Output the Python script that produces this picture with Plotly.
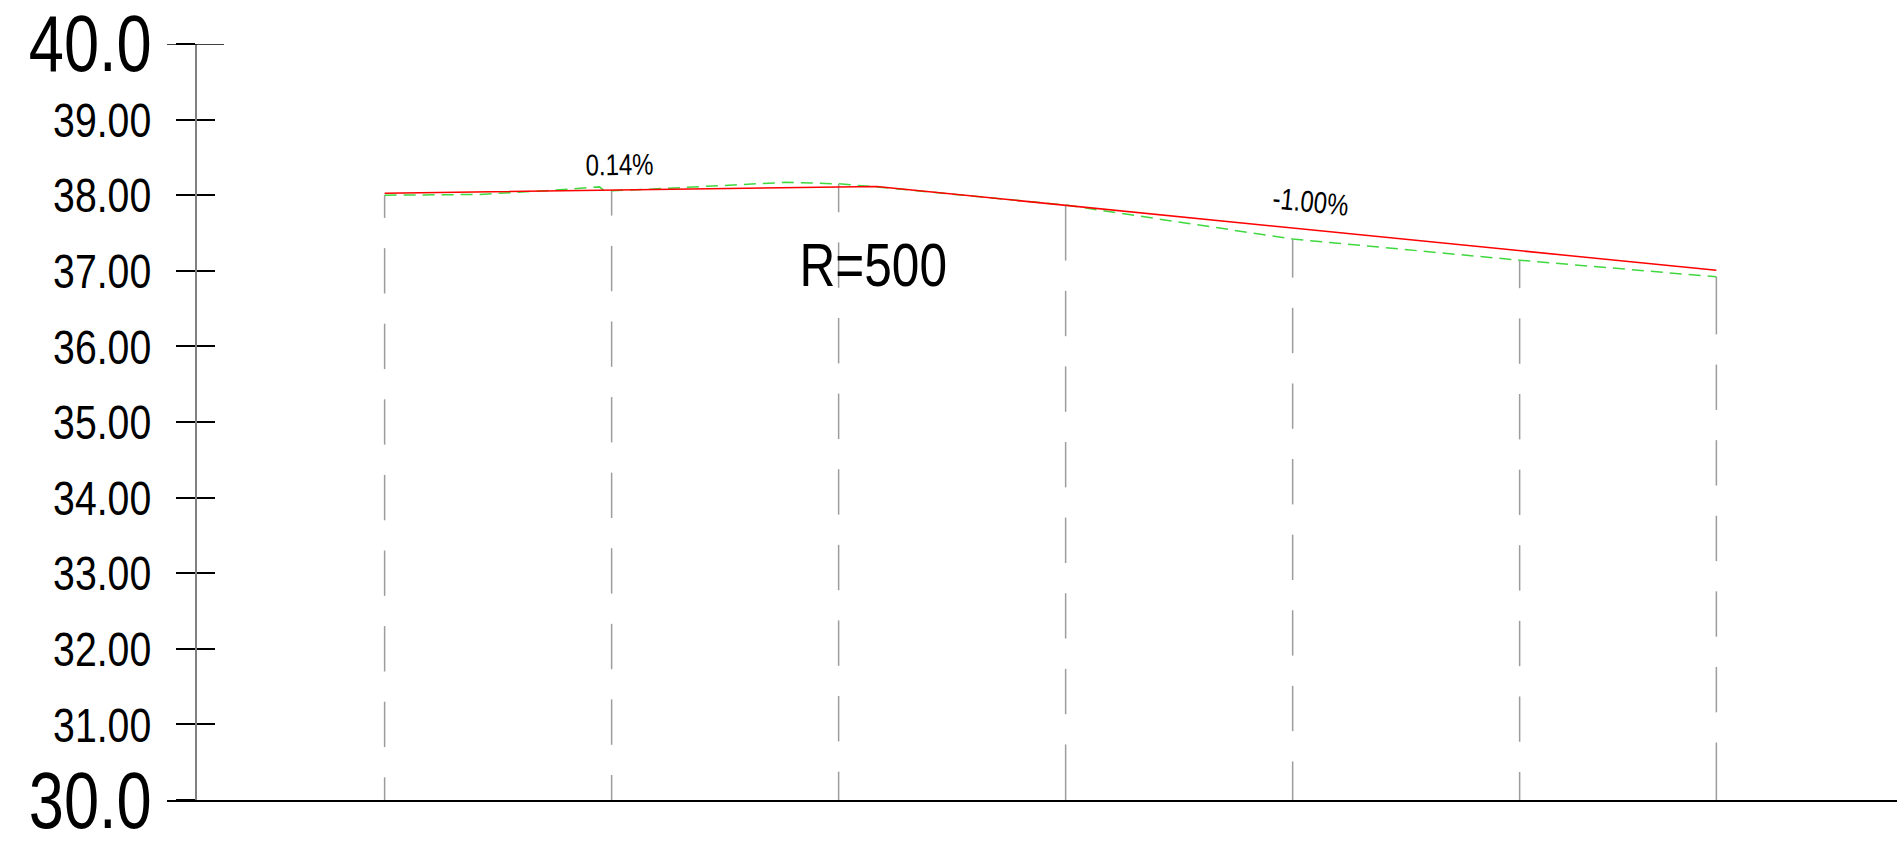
import numpy as np
import plotly.graph_objects as go

# ---------------- data ----------------
# stake stations (m) and ground elevation at each stake
stake_stations = [0, 30, 60, 90, 120, 150, 176]
stake_ground = [38.00, 38.06, 38.15, 37.87, 37.42, 37.14, 36.92]

# natural ground profile (green dashed)
ground_stations = [0, 12.5, 21.4, 28.4, 29.0, 30, 35, 45, 53, 60, 63, 65, 90, 120, 150, 176]
ground_elev = [38.00, 38.01, 38.06, 38.11, 38.06, 38.06, 38.08, 38.13, 38.17, 38.15,
               38.125, 38.11, 37.87, 37.42, 37.14, 36.92]

# design grade line (red), vertical points of intersection
pvi_stations = [0, 65, 176]
pvi_elev = [38.025, 38.116, 37.006]

grade_labels = ["0.14%", "-1.00%"]
grade_values = [0.0014, -0.01]
grade_label_pos = [(31.1, 38.41), (122.3, 37.91)]
curve_label = "R=500"
curve_label_pos = (64.5, 37.09)

y_tickvals = [30, 31, 32, 33, 34, 35, 36, 37, 38, 39, 40]
y_ticktext = ["30.0", "31.00", "32.00", "33.00", "34.00", "35.00", "36.00",
              "37.00", "38.00", "39.00", "40.0"]
big_labels = {30: "30.0", 40: "40.0"}

# ---------------- style ----------------
W, H = 1897, 846
FONT = "Liberation Sans, Arial, sans-serif"
X_RANGE = [-28.76, 199.87]
Y_RANGE = [30, 40]
X_DOMAIN = [167 / W, 1.0]
Y_DOMAIN = [(H - 800) / H, (H - 44) / H]
YAXIS_POS = 196 / W
DASH, GAP = 0.6, 0.4  # stake-line dash pattern in elevation units
WIDTH_FACTOR = 0.8    # CAD-like narrow text

fig = go.Figure()

# stake lines: dashed pattern, centred like CAD linetypes
xs, ys = [], []
base = Y_RANGE[0]
for s, top in zip(stake_stations, stake_ground):
    L = top - base
    n = int(np.floor(L / (DASH + GAP) + 1e-9))
    r = L - n * (DASH + GAP)
    a = (DASH + r) / 2
    segs = [(base, base + a)]
    y = base + a + GAP
    for _ in range(n - 1):
        segs.append((y, y + DASH))
        y += DASH + GAP
    segs.append((top - a, top))
    for y0, y1 in segs:
        xs += [s, s, None]
        ys += [y0, y1, None]
fig.add_trace(go.Scatter(x=xs, y=ys, mode="lines",
                         line=dict(color="#9c9c9c", width=1.5),
                         hoverinfo="skip", showlegend=False))

# design line (red)
fig.add_trace(go.Scatter(x=pvi_stations, y=pvi_elev, mode="lines",
                         line=dict(color="#ff0000", width=1.5),
                         showlegend=False, yaxis="y2"))

# ground line (green dashed)
fig.add_trace(go.Scatter(x=ground_stations, y=ground_elev, mode="lines",
                         line=dict(color="#3fd83f", width=1.5, dash="12px,7px"),
                         showlegend=False))

annotations = []
for v, t in big_labels.items():
    annotations.append(dict(x=154 / W, xref="paper", y=v, yref="y", text=t,
                            xanchor="right", yanchor="middle", align="right",
                            showarrow=False,
                            font=dict(family=FONT, size=79, color="black")))

slope_scale = (75.6 / 7.567)
for (gx, gy), lab, g in zip(grade_label_pos, grade_labels, grade_values):
    ang = -np.degrees(np.arctan(g * slope_scale))
    annotations.append(dict(x=gx, y=gy, xref="x", yref="y", text=lab, showarrow=False,
                            textangle=ang, xanchor="center", yanchor="middle",
                            font=dict(family=FONT, size=30, color="black")))

annotations.append(dict(x=curve_label_pos[0], y=curve_label_pos[1], xref="x", yref="y",
                        text=curve_label, showarrow=False, xanchor="center",
                        yanchor="middle", font=dict(family=FONT, size=62, color="black")))

shapes = [dict(type="line", xref="paper", yref="y", x0=167 / W, x1=224 / W,
               y0=40, y1=40, line=dict(color="black", width=1.5))]

fig.update_layout(
    width=W, height=H,
    margin=dict(l=0, r=0, t=0, b=0),
    paper_bgcolor="white", plot_bgcolor="white",
    showlegend=False,
    xaxis=dict(domain=X_DOMAIN, range=X_RANGE, showline=True, linecolor="black",
               linewidth=1.5, showticklabels=False, ticks="", showgrid=False,
               zeroline=False),
    yaxis=dict(domain=Y_DOMAIN, range=Y_RANGE, anchor="free", position=YAXIS_POS,
               showline=True, linecolor="#808080", linewidth=2,
               ticks="outside", ticklen=19, tickwidth=1.5, tickcolor="black",
               tickvals=y_tickvals,
               ticktext=["" if v in big_labels else t for v, t in zip(y_tickvals, y_ticktext)],
               tickfont=dict(family=FONT, size=49, color="black"),
               ticklabelstandoff=15, showgrid=False, zeroline=False),
    yaxis2=dict(domain=Y_DOMAIN, range=Y_RANGE, overlaying="y", anchor="free",
                position=YAXIS_POS, showline=False, ticks="inside", ticklen=18,
                tickwidth=1.5, tickcolor="black", tickvals=y_tickvals,
                showticklabels=False, showgrid=False, zeroline=False),
    annotations=annotations,
    shapes=shapes,
)

post = """
document.body.style.margin='0';
document.body.style.overflow='hidden';
var gd = document.getElementById('{plot_id}');
gd.querySelectorAll('text.annotation-text, .ytick text').forEach(function(t){
  var L = t.getComputedTextLength();
  if (L > 0) {
    t.setAttribute('textLength', (L * %s).toFixed(2));
    t.setAttribute('lengthAdjust', 'spacingAndGlyphs');
  }
});
""" % WIDTH_FACTOR

fig.write_html("out.html", config={"displayModeBar": False}, post_script=post)
